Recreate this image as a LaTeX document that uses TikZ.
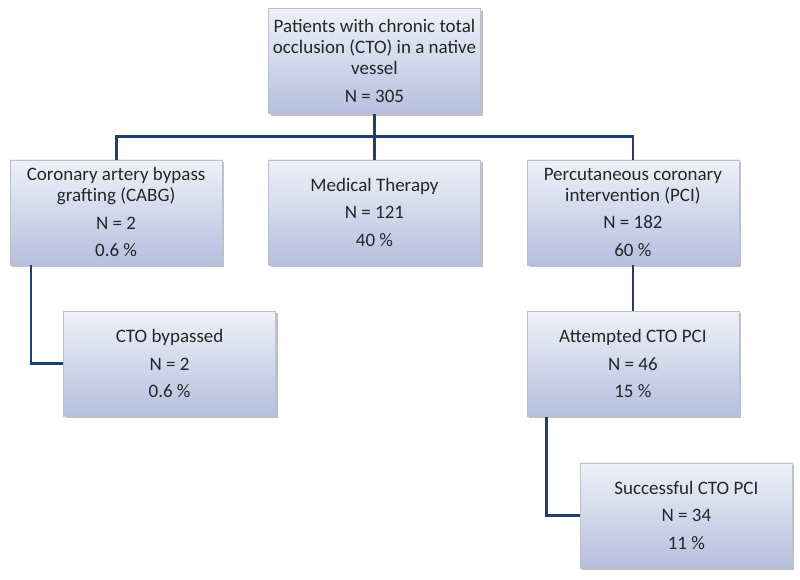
\documentclass[tikz,border=0pt]{standalone}
\usepackage{fontspec}
\setmainfont{Carlito}
\usepackage{tikz}
\usetikzlibrary{positioning,shadows}
\usepackage{xcolor}
\definecolor{boxtop}{HTML}{EFF1F8}
\definecolor{boxbot}{HTML}{B5BFDE}
\definecolor{boxline}{HTML}{BCC0CA}
\definecolor{linkblue}{HTML}{1F3F6E}

\begin{document}
\begin{tikzpicture}[x=1pt,y=1pt,node distance=46pt,
  box/.style={draw=boxline,top color=boxtop,bottom color=boxbot,
    minimum width=212pt,minimum height=105pt,align=center,
    font=\fontsize{19}{21}\selectfont,text=black!85,
    drop shadow={shadow xshift=2pt,shadow yshift=-2pt,opacity=.35,fill=black!70}},
  link/.style={draw=linkblue,line width=2.8pt}]
  \useasboundingbox (0,0) rectangle (800,-579);

	\node [box] (top) at (374.5,-61) {Patients with chronic total\\occlusion (CTO) in a native\\vessel\\[6.5pt]N = 305};
	\node [box] (med) [below = of top] {Medical Therapy\\[6.5pt]N = 121\\[6.5pt]40 \%};
	\node [box] (cabg) [left = of med] {Coronary artery bypass\\grafting (CABG)\\[6.5pt]N = 2\\[6.5pt]0.6 \%};
	\node [box] (pci) [right = of med] {Percutaneous coronary\\intervention (PCI)\\[6.5pt]N = 182\\[6.5pt]60 \%};
	\node [box] (bypass) [below = of cabg, xshift=53.5pt] {CTO bypassed\\[6.5pt]N = 2\\[6.5pt]0.6 \%};
	\node [box] (att) [below = of pci] {Attempted CTO PCI\\[6.5pt]N = 46\\[6.5pt]15 \%};
	\node [box] (succ) [below = of att, xshift=53.5pt] {Successful CTO PCI\\[6.5pt]N = 34\\[6.5pt]11 \%};

  \path (top.south) -- ++(0,-23) coordinate (hub);
  \draw [link] (top.south) -- (med.north);
  \draw [link] (cabg.north) |- (hub) -| (pci.north);
  \draw [link] ([xshift=21pt]cabg.south west) |- (bypass.west);
  \draw [link] (pci.south) -- (att.north);
  \draw [link] ([xshift=20pt]att.south west) |- (succ.west);

\end{tikzpicture}
\end{document}
